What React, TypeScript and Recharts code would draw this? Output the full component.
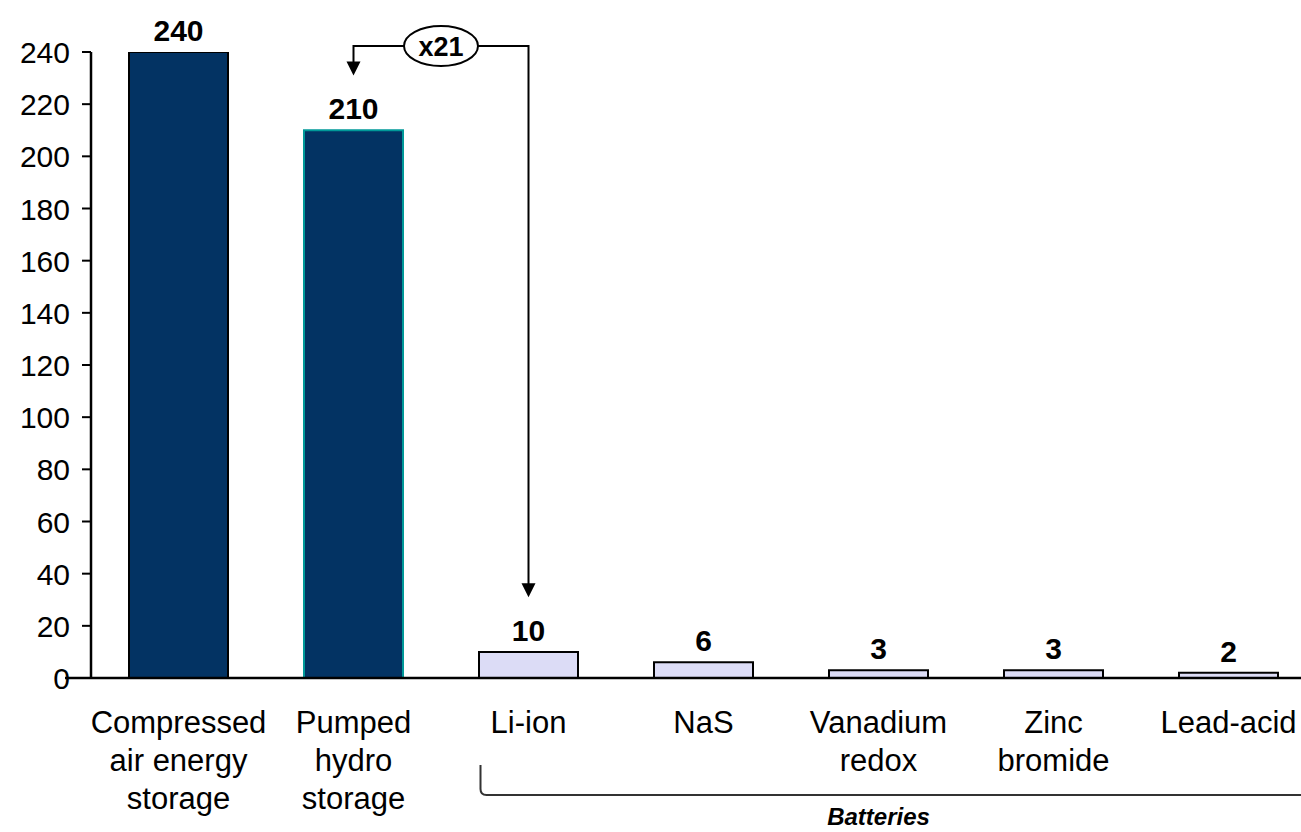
import { BarChart, Bar, XAxis, YAxis, Cell, LabelList, ReferenceLine } from 'recharts'

const categories = [
  'Compressed air energy storage',
  'Pumped hydro storage',
  'Li-ion',
  'NaS',
  'Vanadium redox',
  'Zinc bromide',
  'Lead-acid',
]
const categoryLines = [
  ['Compressed', 'air energy', 'storage'],
  ['Pumped', 'hydro', 'storage'],
  ['Li-ion'],
  ['NaS'],
  ['Vanadium', 'redox'],
  ['Zinc', 'bromide'],
  ['Lead-acid'],
]
const values = [240, 210, 10, 6, 3, 3, 2]
const yTicks = [0, 20, 40, 60, 80, 100, 120, 140, 160, 180, 200, 220, 240]

// annotation: ratio between pumped hydro and li-ion
const ratioLabel = 'x21'
const ratioLevel = 242.3
const ratioFrom = 'Pumped hydro storage'
const ratioTo = 'Li-ion'
const ratioFromTip = 231
const ratioToTip = 31

// group bracket under the battery categories
const groupLabel = 'Batteries'
const groupFirst = 'Li-ion'
const groupLast = 'Lead-acid'
const groupLevel = -44.9

const fills = ['#033363', '#033363', '#DCDCF6', '#DCDCF6', '#DCDCF6', '#DCDCF6', '#DCDCF6']
const strokes = ['#000000', '#009999', '#000000', '#000000', '#000000', '#000000', '#000000']

const FONT = 'Liberation Sans, Arial, Helvetica, sans-serif'

const data = categories.map((name, i) => ({ name, value: values[i] }))

function CategoryTick({ x, y, payload }: any) {
  const lines = categoryLines[categories.indexOf(payload.value)] || [payload.value]
  return (
    <text x={x} y={y} textAnchor="middle" fontFamily={FONT} fontSize={31} fill="#000">
      {lines.map((line, i) => (
        <tspan key={line} x={x} dy={i === 0 ? 55 : 38}>
          {line}
        </tspan>
      ))}
    </text>
  )
}

function ValueTick({ x, y, payload }: any) {
  return (
    <g>
      {payload.value === 0 && (
        <line x1={x - 5} y1={y} x2={x + 21} y2={y} stroke="#000" strokeWidth={2.5} />
      )}
      <text x={x} y={y} dy={11} textAnchor="end" fontFamily={FONT} fontSize={30} fill="#000">
        {payload.value}
      </text>
    </g>
  )
}

function Bridge({ x1, y1, x2 }: any) {
  const cx = (x1 + x2) / 2
  return (
    <g>
      <line x1={x1} y1={y1} x2={x2} y2={y1} stroke="#000" strokeWidth={2} />
      <ellipse cx={cx} cy={y1} rx={37} ry={20} fill="#fff" stroke="#000" strokeWidth={2} />
      <text x={cx} y={y1} dy={10} textAnchor="middle" fontFamily={FONT} fontSize={27} fontWeight="bold" fill="#000">
        {ratioLabel}
      </text>
    </g>
  )
}

function Arrow({ x1, y1, x2, y2 }: any) {
  return (
    <g>
      <line x1={x1} y1={y1 - 1} x2={x2} y2={y2 - 12} stroke="#000" strokeWidth={2} />
      <polygon points={`${x2 - 7},${y2 - 14} ${x2 + 7},${y2 - 14} ${x2},${y2}`} fill="#000" />
    </g>
  )
}

function Bracket({ x1, y1, x2 }: any) {
  const left = x1 - 48
  return (
    <g>
      <path
        d={`M${left},${y1 - 30} L${left},${y1 - 6} Q${left},${y1} ${left + 6},${y1} L${x2 + 200},${y1}`}
        fill="none"
        stroke="#333"
        strokeWidth={2}
      />
      <text
        x={(x1 + x2) / 2}
        y={y1}
        dy={30}
        textAnchor="middle"
        fontFamily={FONT}
        fontSize={24}
        fontWeight="bold"
        fontStyle="italic"
        fill="#000"
      >
        {groupLabel}
      </text>
    </g>
  )
}

export default function App() {
  return (
    <div style={{ position: 'absolute', left: 0, top: 0, width: 1301, height: 832, overflow: 'hidden', background: '#fff' }}>
      <BarChart
        width={1316}
        height={832}
        data={data}
        margin={{ top: 52, right: 0, bottom: 0, left: 0 }}
        barSize={99}
      >
        <XAxis
          dataKey="name"
          height={154}
          tickLine={false}
          tickSize={0}
          tickMargin={0}
          axisLine={{ stroke: '#000', strokeWidth: 2.5 }}
          tick={<CategoryTick />}
          interval={0}
        />
        <YAxis
          width={91}
          domain={[0, 240]}
          ticks={yTicks}
          interval={0}
          allowDataOverflow
          tickSize={9}
          tickMargin={12}
          tickLine={{ stroke: '#000', strokeWidth: 2 }}
          axisLine={{ stroke: '#000', strokeWidth: 2.5 }}
          tick={<ValueTick />}
        />
        <Bar dataKey="value" isAnimationActive={false} strokeWidth={2}>
          {data.map((d, i) => (
            <Cell key={d.name} fill={fills[i]} stroke={strokes[i]} />
          ))}
          <LabelList
            dataKey="value"
            position="top"
            offset={11}
            fontFamily={FONT}
            fontSize={30}
            fontWeight="bold"
            fill="#000"
          />
        </Bar>
        <ReferenceLine
          ifOverflow="visible"
          segment={[{ x: ratioFrom, y: ratioLevel }, { x: ratioTo, y: ratioLevel }]}
          shape={(p: any) => <Bridge {...p} />}
        />
        <ReferenceLine
          ifOverflow="visible"
          segment={[{ x: ratioFrom, y: ratioLevel }, { x: ratioFrom, y: ratioFromTip }]}
          shape={(p: any) => <Arrow {...p} />}
        />
        <ReferenceLine
          ifOverflow="visible"
          segment={[{ x: ratioTo, y: ratioLevel }, { x: ratioTo, y: ratioToTip }]}
          shape={(p: any) => <Arrow {...p} />}
        />
        <ReferenceLine
          ifOverflow="visible"
          segment={[{ x: groupFirst, y: groupLevel }, { x: groupLast, y: groupLevel }]}
          shape={(p: any) => <Bracket {...p} />}
        />
      </BarChart>
    </div>
  )
}
